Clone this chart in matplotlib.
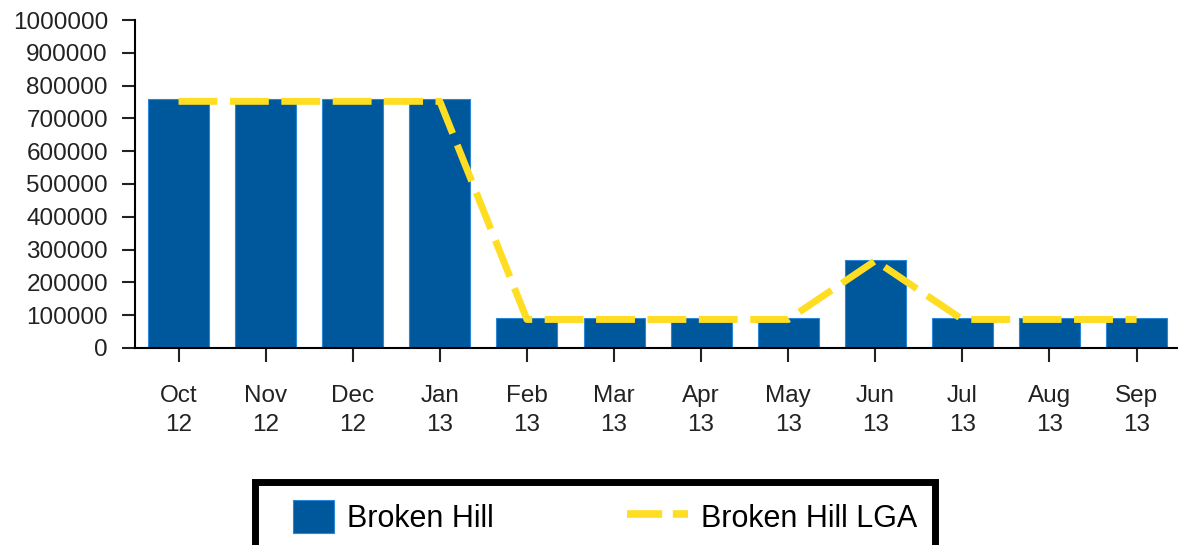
import matplotlib.pyplot as plt
import numpy as np
from matplotlib.patches import Rectangle, Patch
from matplotlib.legend_handler import HandlerPatch

months = ['Oct\n12', 'Nov\n12', 'Dec\n12', 'Jan\n13', 'Feb\n13', 'Mar\n13',
          'Apr\n13', 'May\n13', 'Jun\n13', 'Jul\n13', 'Aug\n13', 'Sep\n13']
broken_hill = [760000, 760000, 760000, 760000, 91000, 91000,
               91000, 91000, 268000, 91000, 91000, 91000]
broken_hill_lga = [752000, 752000, 752000, 752000, 87000, 87000,
                   87000, 87000, 266000, 87000, 87000, 87000]

plt.rcParams['font.family'] = ['Liberation Sans', 'DejaVu Sans']

fig = plt.figure(figsize=(11.78, 5.45), dpi=100)
ax = fig.add_axes([0.1146, 0.3615, 0.885, 0.6018])

x = np.arange(len(months))
ax.bar(x, broken_hill, width=0.7, color='#00589c', edgecolor='#2a86d6',
       linewidth=0.8, zorder=2)
ax.plot(x, broken_hill_lga, color='#ffdd22', linewidth=5,
        dashes=(5.6, 1.8), zorder=3)

ax.set_xlim(-0.5, 11.47)
ax.set_ylim(0, 1000000)
ax.set_yticks(np.arange(0, 1000001, 100000))
ax.set_yticklabels([str(v) for v in range(0, 1000001, 100000)])
ax.set_xticks(x)
ax.set_xticklabels(months)

for s in ['top', 'right']:
    ax.spines[s].set_visible(False)
for s in ['left', 'bottom']:
    ax.spines[s].set_linewidth(1.5)
ax.tick_params(axis='y', length=9.5, width=1.5, labelsize=17.5, pad=10, colors='#222222')
ax.tick_params(axis='x', length=10, width=1.5, labelsize=17.5, pad=17, colors='#222222')
for t in ax.get_xticklabels():
    t.set_linespacing(1.4)


def narrow_patch(legend, orig_handle, xdescent, ydescent, width, height, fontsize):
    w = width * 0.67
    return Rectangle((width - w - xdescent, -ydescent), w, height)


leg_patch = Patch(facecolor='#00589c', edgecolor='#2a86d6', linewidth=0.8)
leg_line = plt.Line2D([], [], color='#ffdd22', linewidth=5.5, dashes=(4.6, 1.4))
leg = fig.legend([leg_patch, leg_line], ['Broken Hill', 'Broken Hill LGA'],
                 loc='upper center', bbox_to_anchor=(0.505, 0.1155), ncol=2,
                 fontsize=22, frameon=True, fancybox=False, framealpha=1,
                 borderpad=0.6, handlelength=2.0, handleheight=1.25,
                 handletextpad=0.42, columnspacing=4.35, borderaxespad=0,
                 handler_map={Patch: HandlerPatch(patch_func=narrow_patch)})
leg.get_frame().set_edgecolor('black')
leg.get_frame().set_linewidth(5)

fig.savefig('out.png', dpi=100)
